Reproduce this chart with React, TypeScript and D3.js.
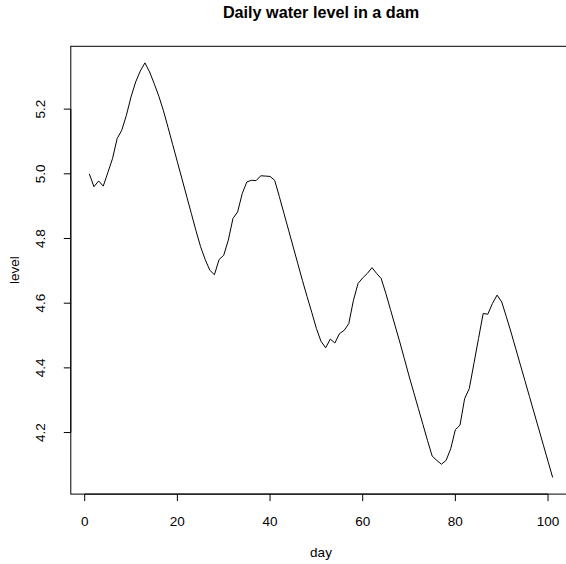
import React from "react";
import * as d3 from "d3";

const title = "Daily water level in a dam";
const xLabel = "day";
const yLabel = "level";
const levels: number[] = [
  5.000, 4.960, 4.978, 4.962, 5.004, 5.047, 5.109, 5.135, 5.181, 5.238,
  5.284, 5.318, 5.343, 5.315, 5.279, 5.240, 5.195, 5.143, 5.090, 5.037,
  4.984, 4.931, 4.878, 4.825, 4.775, 4.735, 4.702, 4.688, 4.735, 4.748,
  4.795, 4.862, 4.882, 4.939, 4.975, 4.980, 4.979, 4.994, 4.993, 4.992,
  4.980, 4.930, 4.878, 4.826, 4.774, 4.722, 4.670, 4.620, 4.572, 4.522,
  4.482, 4.462, 4.489, 4.477, 4.506, 4.516, 4.537, 4.609, 4.661, 4.678,
  4.692, 4.710, 4.692, 4.676, 4.630, 4.580, 4.530, 4.480, 4.428, 4.375,
  4.325, 4.275, 4.225, 4.175, 4.127, 4.114, 4.102, 4.114, 4.150, 4.209,
  4.223, 4.305, 4.336, 4.413, 4.491, 4.568, 4.566, 4.599, 4.625, 4.604,
  4.558, 4.511, 4.461, 4.411, 4.361, 4.311, 4.261, 4.211, 4.161, 4.111,
  4.061,
];
const firstDay = 1;
const xTicks = [0, 20, 40, 60, 80, 100];
const yTicks = [4.2, 4.4, 4.6, 4.8, 5.0, 5.2];

const W = 566;
const H = 564;
const plotLeft = 70.8;
const plotRight = 571.2;
const plotTop = 46.3;
const plotBottom = 494.1;
const font = "'Liberation Sans', Arial, Helvetica, sans-serif";

export default function App() {
  const points = levels.map((v, i) => ({ day: firstDay + i, level: v }));
  const dayExt = d3.extent(points, (d) => d.day) as [number, number];
  const lvlExt = d3.extent(points, (d) => d.level) as [number, number];
  const dx = (dayExt[1] - dayExt[0]) * 0.04;
  const dy = (lvlExt[1] - lvlExt[0]) * 0.04;
  const x = d3.scaleLinear().domain([dayExt[0] - dx, dayExt[1] + dx]).range([plotLeft, plotRight]);
  const y = d3.scaleLinear().domain([lvlExt[0] - dy, lvlExt[1] + dy]).range([plotBottom, plotTop]);
  const line = d3
    .line<{ day: number; level: number }>()
    .x((d) => x(d.day))
    .y((d) => y(d.level));
  const tick = 7;
  const cx = (plotLeft + plotRight) / 2;
  const cy = (plotTop + plotBottom) / 2;

  return (
    <svg
      width={W}
      height={H}
      style={{ position: "absolute", left: 0, top: 0, background: "#fff" }}
      fontFamily={font}
    >
      <rect x={0} y={0} width={W} height={H} fill="#fff" />
      <rect
        x={plotLeft}
        y={plotTop}
        width={plotRight - plotLeft}
        height={plotBottom - plotTop}
        fill="none"
        stroke="#000"
        strokeWidth={1}
      />
      <path d={line(points) || ""} fill="none" stroke="#000" strokeWidth={1} strokeLinejoin="round" />
      {/* x axis */}
      <line x1={x(xTicks[0])} x2={x(xTicks[xTicks.length - 1])} y1={plotBottom} y2={plotBottom} stroke="#000" />
      {xTicks.map((t) => (
        <g key={"x" + t}>
          <line x1={x(t)} x2={x(t)} y1={plotBottom} y2={plotBottom + tick} stroke="#000" />
          <text x={x(t)} y={525.5} textAnchor="middle" fontSize={13.5} fill="#000">
            {t}
          </text>
        </g>
      ))}
      {/* y axis */}
      <line x1={plotLeft} x2={plotLeft} y1={y(yTicks[0])} y2={y(yTicks[yTicks.length - 1])} stroke="#000" />
      {yTicks.map((t) => (
        <g key={"y" + t}>
          <line x1={plotLeft - tick} x2={plotLeft} y1={y(t)} y2={y(t)} stroke="#000" />
          <text
            transform={`translate(44.9,${y(t)}) rotate(-90)`}
            textAnchor="middle"
            fontSize={13.5}
            fill="#000"
          >
            {t.toFixed(1)}
          </text>
        </g>
      ))}
      <text x={cx} y={557} textAnchor="middle" fontSize={13.5} fill="#000">
        {xLabel}
      </text>
      <text transform={`translate(18.5,${cy}) rotate(-90)`} textAnchor="middle" fontSize={13.5} fill="#000">
        {yLabel}
      </text>
      <text x={cx} y={17.5} textAnchor="middle" fontSize={16.2} fontWeight="bold" fill="#000">
        {title}
      </text>
    </svg>
  );
}
